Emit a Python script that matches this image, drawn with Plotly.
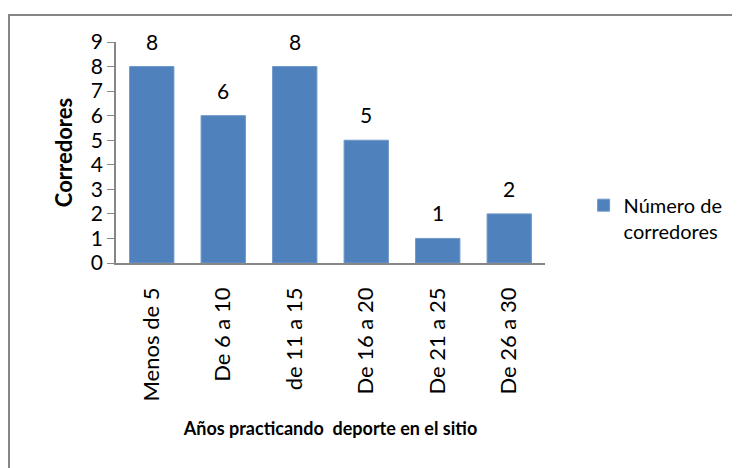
import plotly.graph_objects as go

# datos
categorias = ["Menos de 5", "De 6 a 10", "de 11 a 15", "De 16 a 20", "De 21 a 25", "De 26 a 30"]
corredores = [8, 6, 8, 5, 1, 2]
serie = "Número de<br>corredores"

fuente = "Lato"
gris = "#868686"
azul = "#4F81BD"

fig = go.Figure()
fig.add_trace(go.Bar(
    x=categorias, y=corredores, name=serie,
    marker=dict(color=azul, line=dict(color="#6f97c9", width=1)),
    showlegend=True,
))

# etiquetas de valor encima de las barras
for c, v in zip(categorias, corredores):
    fig.add_annotation(x=c, y=v, text=str(v), showarrow=False,
                       yanchor="bottom", yshift=11,
                       font=dict(family=fuente, size=21, color="black"))

# borde exterior del grafico
fig.add_shape(type="rect", xref="paper", yref="paper",
              x0=-0.2494, y0=-0.99, x1=1.48, y1=1.122,
              line=dict(color=gris, width=2))

# el body de la pagina tiene 8px de margen, por eso 732x460
fig.update_layout(
    width=732, height=460,
    margin=dict(l=108, r=195, t=34, b=205, autoexpand=False),
    paper_bgcolor="white", plot_bgcolor="white",
    bargap=0.38,
    font=dict(family=fuente, size=20, color="black"),
    legend=dict(x=1.09, y=0.35, xanchor="left", yanchor="top",
                valign="top", font=dict(family=fuente, size=20),
                bgcolor="rgba(0,0,0,0)"),
    xaxis=dict(
        showline=True, linecolor=gris, linewidth=1.5,
        showgrid=False, ticks="", tickangle=-90,
        ticklabelstandoff=14,
        tickfont=dict(family=fuente, size=22),
        title=dict(text="<b>Años practicando  deporte en el sitio</b>",
                   font=dict(family=fuente, size=18), standoff=22),
    ),
    yaxis=dict(
        range=[0, 9], dtick=1, showline=True, linecolor=gris, linewidth=1.5,
        showgrid=False, ticks="outside", ticklen=7, tickcolor=gris,
        tickfont=dict(family=fuente, size=21),
        title=dict(text="<b>Corredores</b>",
                   font=dict(family=fuente, size=22), standoff=12),
        zeroline=False,
    ),
)

fig.write_html("out.html")
